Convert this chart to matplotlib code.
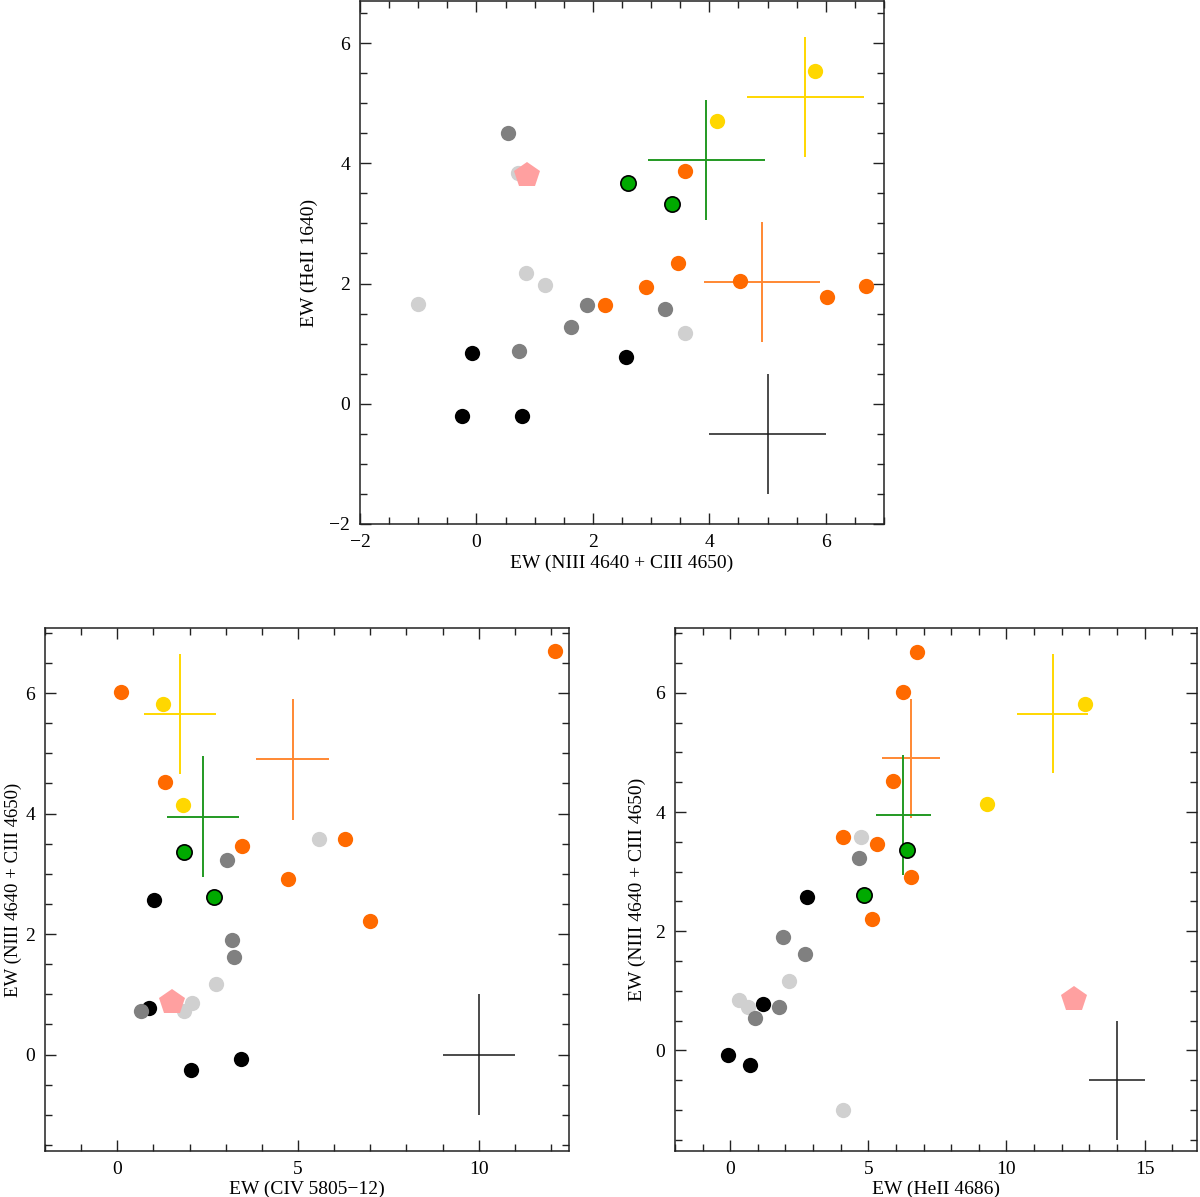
import numpy as np
import matplotlib
matplotlib.use('Agg')
import matplotlib.pyplot as plt
from matplotlib.ticker import MultipleLocator

nan = np.nan

# ---------------- data (equivalent widths per star) ----------------
star_group = (['black'] * 4 + ['dgray'] * 5 + ['lgray'] * 5 + ['orange'] * 7
              + ['yellow'] * 2 + ['green'] * 2 + ['pink'])
ew_nc = [-0.08, 2.57, -0.25, 0.78,
         0.55, 1.90, 3.23, 1.62, 0.73,
         0.72, 0.85, 1.17, -1.00, 3.58,
         3.58, 3.46, 2.91, 4.52, 6.02, 6.69, 2.21,
         5.82, 4.14,
         3.36, 2.61,
         0.87]
ew_he1640 = [0.84, 0.78, -0.20, -0.20,
             4.50, 1.65, 1.58, 1.27, 0.88,
             3.845, 2.18, 1.98, 1.66, 1.18,
             3.88, 2.35, 1.95, 2.04, 1.78, 1.96, 1.65,
             5.54, 4.71,
             3.32, 3.68,
             3.81]
ew_civ = [3.42, 1.03, 2.03, 0.89,
          nan, 3.17, 3.04, 3.23, 0.66,
          1.85, 2.06, 2.73, nan, 5.58,
          6.29, 3.46, 4.73, 1.33, 0.09, 12.12, 6.99,
          1.26, 1.83,
          1.86, 2.67,
          1.51]
ew_he4686 = [-0.09, 2.78, 0.70, 1.20,
             0.88, 1.90, 4.67, 2.70, 1.77,
             0.64, 0.32, 2.14, 4.07, 4.73,
             4.10, 5.31, 6.53, 5.88, 6.24, 6.76, 5.15,
             12.86, 9.30,
             6.41, 4.85,
             12.45]

# group mean crosses
cross_group = ['orange', 'green', 'yellow']
cross_nc = [4.90, 3.95, 5.65]
cross_he1640 = [2.03, 4.05, 5.10]
cross_civ = [4.85, 2.37, 1.73]
cross_he4686 = [6.56, 6.26, 11.67]
err_nc = [1.0, 1.0, 1.0]
err_he1640 = [1.0, 1.0, 1.0]
err_civ = [1.0, 1.0, 1.0]
err_he4686 = [1.05, 1.0, 1.3]

# typical error bars (x, y, xerr, yerr) per panel
typ_top = [5.0, -0.5, 1.0, 1.0]
typ_bl = [10.0, 0.0, 1.0, 1.0]
typ_br = [14.0, -0.5, 1.0, 1.0]

# ---------------- styles ----------------
style = {
    'black':  dict(c='#000000', ec='none', m='o', s=11),
    'lgray':  dict(c='#d0d0d0', ec='none', m='o', s=11),
    'dgray':  dict(c='#808080', ec='none', m='o', s=11),
    'orange': dict(c='#ff6a00', ec='none', m='o', s=11),
    'yellow': dict(c='#ffd700', ec='none', m='o', s=11),
    'green':  dict(c='#00aa00', ec='#000000', m='o', s=11),
    'pink':   dict(c='#ffa0a0', ec='none', m='p', s=19),
}
order = ['black', 'lgray', 'dgray', 'orange', 'yellow', 'green', 'pink']
cross_col = {'orange': '#ff8833', 'green': '#229922', 'yellow': '#ffd700'}

plt.rcParams['font.family'] = ['Liberation Serif', 'DejaVu Serif']
plt.rcParams['axes.unicode_minus'] = True

W, H = 1200, 1197
fig = plt.figure(figsize=(W / 100, H / 100), dpi=100)


def axes_px(l, t, r, b):
    return fig.add_axes([l / W, 1 - b / H, (r - l) / W, (b - t) / H])


def style_axes(ax, xmaj, xmin, ymaj, ymin):
    ax.xaxis.set_major_locator(MultipleLocator(xmaj))
    ax.xaxis.set_minor_locator(MultipleLocator(xmin))
    ax.yaxis.set_major_locator(MultipleLocator(ymaj))
    ax.yaxis.set_minor_locator(MultipleLocator(ymin))
    ax.tick_params(which='both', direction='in', top=True, right=True,
                   labelsize=14, width=1.0, color='#222222', pad=7)
    ax.tick_params(which='major', length=8)
    ax.tick_params(which='minor', length=5)
    for sp in ax.spines.values():
        sp.set_linewidth(1.1)
        sp.set_color('#222222')


def draw(ax, xs, ys, cx, cy, cxe, cye, typ):
    xs = np.asarray(xs, float)
    ys = np.asarray(ys, float)
    grp = np.asarray(star_group)
    for k, g in enumerate(cross_group):
        ax.errorbar(cx[k], cy[k], xerr=cxe[k], yerr=cye[k], fmt='none',
                    ecolor=cross_col[g], elinewidth=1.4, capsize=0, zorder=2)
    ax.errorbar(typ[0], typ[1], xerr=typ[2], yerr=typ[3], fmt='none',
                ecolor='#1a1a1a', elinewidth=1.1, capsize=0, zorder=2)
    for zi, g in enumerate(order):
        st = style[g]
        sel = grp == g
        ax.plot(xs[sel], ys[sel], ls='none', marker=st['m'], ms=st['s'],
                mfc=st['c'], mec=st['ec'] if st['ec'] != 'none' else st['c'],
                mew=1.2 if st['ec'] != 'none' else 0, zorder=3 + zi)


def labels(ax, xl, yl, xy, yx, yfs=14):
    ax.set_xlabel(xl, fontsize=14)
    ax.set_ylabel(yl, fontsize=yfs)
    ax.xaxis.set_label_coords(0.5, xy)
    ax.yaxis.set_label_coords(yx, 0.5)


# top panel
ax1 = axes_px(360, 1, 884, 524)
draw(ax1, ew_nc, ew_he1640, cross_nc, cross_he1640, err_nc, err_he1640, typ_top)
ax1.set_xlim(-2, 7)
ax1.set_ylim(-2, 6.7)
style_axes(ax1, 2, 0.5, 2, 0.5)
labels(ax1, 'EW (NIII 4640 + CIII 4650)', 'EW (HeII 1640)', -0.058, -0.080)

# bottom left
ax2 = axes_px(45, 628, 569, 1151)
draw(ax2, ew_civ, ew_nc, cross_civ, cross_nc, err_civ, err_nc, typ_bl)
ax2.set_xlim(-2, 12.5)
ax2.set_ylim(-1.6, 7.08)
style_axes(ax2, 5, 1, 2, 0.5)
labels(ax2, 'EW (CIV 5805\u221212)', 'EW (NIII 4640 + CIII 4650)', -0.056, -0.0448,
       yfs=13.5)

# bottom right
ax3 = axes_px(675, 628, 1197, 1151)
draw(ax3, ew_he4686, ew_nc, cross_he4686, cross_nc, err_he4686, err_nc, typ_br)
ax3.set_xlim(-2, 16.9)
ax3.set_ylim(-1.69, 7.09)
style_axes(ax3, 5, 1, 2, 0.5)
labels(ax3, 'EW (HeII 4686)', 'EW (NIII 4640 + CIII 4650)', -0.056, -0.056)

fig.savefig('out.png', dpi=100)
